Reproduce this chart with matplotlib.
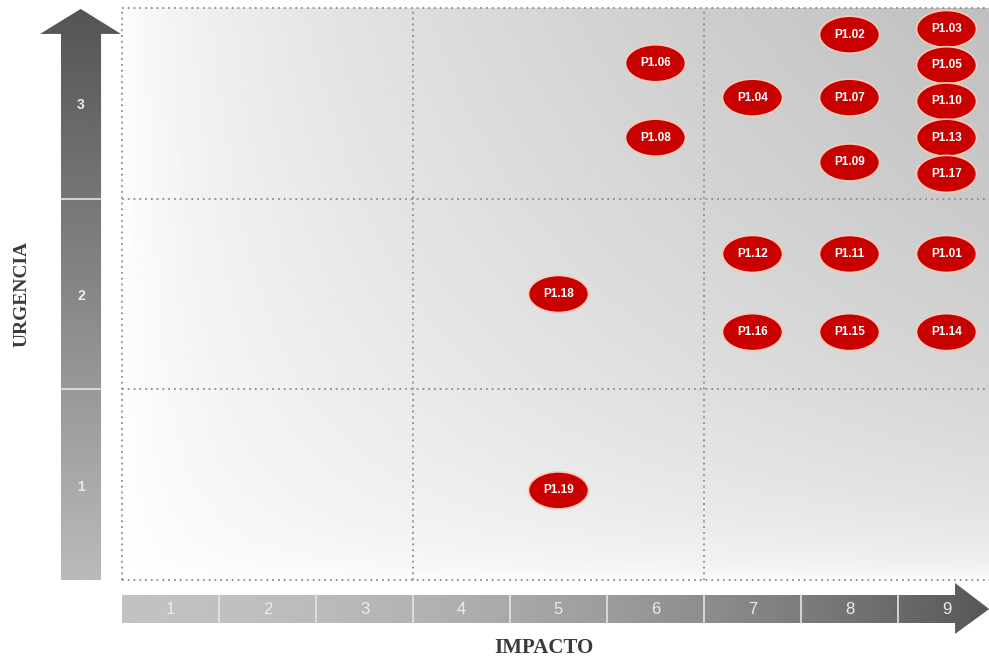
import numpy as np
import matplotlib
matplotlib.use("Agg")
import matplotlib.pyplot as plt
from matplotlib.patches import Ellipse, Polygon

# Priority items: impact (1-9) and urgency position (0-3 scale)
labels = ["P1.01", "P1.02", "P1.03", "P1.04", "P1.05", "P1.06", "P1.07",
          "P1.08", "P1.09", "P1.10", "P1.11", "P1.12", "P1.13", "P1.14",
          "P1.15", "P1.16", "P1.17", "P1.18", "P1.19"]
impact = [9, 8, 9, 7, 9, 6, 8, 6, 8, 9, 8, 7, 9, 9, 8, 7, 9, 5, 5]
urgency = [1.71, 2.86, 2.89, 2.53, 2.70, 2.71, 2.53, 2.32, 2.19, 2.51,
           1.71, 1.71, 2.32, 1.30, 1.30, 1.30, 2.13, 1.50, 0.47]

impact_ticks = [1, 2, 3, 4, 5, 6, 7, 8, 9]
urgency_ticks = [1, 2, 3]
x_title = "IMPACTO"
y_title = "URGENCIA"

fig = plt.figure(figsize=(9.89, 6.56), dpi=100)
ax = fig.add_axes([0, 0, 1, 1])
ax.set_axis_off()

PX_X = 97.0        # pixels per impact unit
PX_Y = 572 / 3.0   # pixels per urgency unit
XLIM = (-122 / PX_X, 867 / PX_X)
YLIM = (-76 / PX_Y, 580 / PX_Y)
nx, ny = len(impact_ticks), len(urgency_ticks)

# ---- background shading of the matrix ----
gx = np.linspace(0, 1, 500)
gy = np.linspace(0, 1, 250)
GX, GY = np.meshgrid(gx, gy)
shade = 1.0 - 0.25 * np.power(GX, 0.6) * np.power(GY, 0.4)
ax.imshow(shade, extent=(0, nx, 0, ny), origin="lower", cmap="gray",
          vmin=0, vmax=1, aspect="auto", interpolation="bilinear", zorder=0)

# ---- dotted grid (3 x 3 zones) ----
grid_kw = dict(color="#9c8484", lw=1.3, ls=(0, (1, 2.2)), zorder=1)
for xv in (0, 3, 6):
    ax.plot([xv, xv], [0, ny], **grid_kw)
for yv in (0, 1, 2, 3):
    ax.plot([0, nx], [yv, yv], **grid_kw)


def gradient_fill(poly_xy, extent, values, horizontal):
    poly = Polygon(poly_xy, closed=True, facecolor="none", edgecolor="none",
                   transform=ax.transData)
    ax.add_patch(poly)
    arr = np.array(values)
    arr = arr[np.newaxis, :] if horizontal else arr[:, np.newaxis]
    im = ax.imshow(arr, extent=extent, origin="lower", cmap="gray", vmin=0,
                   vmax=1, aspect="auto", interpolation="bilinear", zorder=2)
    im.set_clip_path(poly)


# ---- vertical URGENCIA arrow ----
bx0, bx1 = -0.629, -0.216
hx0, hx1, tipx = -0.845, -0.01, -0.426
head_base, tip_y = 2.864, 2.995
v_poly = [(bx0, 0), (bx1, 0), (bx1, head_base), (hx1, head_base),
          (tipx, tip_y), (hx0, head_base), (bx0, head_base)]
tv = np.linspace(0, 1, 200)
gradient_fill(v_poly, (hx0, hx1, 0, tip_y), 0.73 - 0.40 * tv, horizontal=False)
for k in urgency_ticks[:-1]:
    ax.plot([bx0, bx1], [k, k], color="#e4e4e4", lw=1.2, zorder=3)
for k in urgency_ticks:
    ax.text((bx0 + bx1) / 2, k - 0.51, str(k), ha="center", va="center",
            color="#ececec", fontsize=10, fontweight="bold",
            family="Liberation Sans", zorder=4)

# ---- horizontal IMPACTO arrow ----
by0, by1 = -0.2255, -0.0787
hy0, hy1 = -0.283, -0.0157
hbase, tipx2 = 8.588, 8.94
h_poly = [(0, by0), (hbase, by0), (hbase, hy0), (tipx2, (by0 + by1) / 2),
          (hbase, hy1), (hbase, by1), (0, by1)]
th = np.linspace(0, 1, 300)
gradient_fill(h_poly, (0, tipx2, hy0, hy1),
              0.76 - 0.42 * np.power(th, 1.8), horizontal=True)
for k in impact_ticks[:-1]:
    ax.plot([k, k], [by0, by1], color="#e4e4e4", lw=1.2, zorder=3)
for k in impact_ticks:
    ax.text(k - 0.5, (by0 + by1) / 2, str(k), ha="center", va="center",
            color="#ececec", fontsize=12, family="Liberation Sans", zorder=4)

# ---- axis titles ----
ax.text(-1.03, 1.5, y_title, rotation=90, ha="center", va="center",
        color="#3a3a3a", fontsize=14, fontweight="bold",
        family="Liberation Serif")
ax.text(4.35, -0.355, x_title, ha="center", va="center", color="#3a3a3a",
        fontsize=15, fontweight="bold", family="Liberation Serif")

# ---- items ----
for lab, xi, yi in zip(labels, impact, urgency):
    cx = xi - 0.5
    ax.add_patch(Ellipse((cx, yi), 60 / PX_X, 37 / PX_Y, facecolor="#c90000",
                         edgecolor="#f6cbb8", lw=1.2, zorder=5))
    ax.text(cx, yi, lab, ha="center", va="center", color="white",
            fontsize=8.5, fontweight="bold", family="Liberation Sans",
            zorder=6)

ax.set_xlim(*XLIM)
ax.set_ylim(*YLIM)
fig.savefig("out.png", dpi=100)
